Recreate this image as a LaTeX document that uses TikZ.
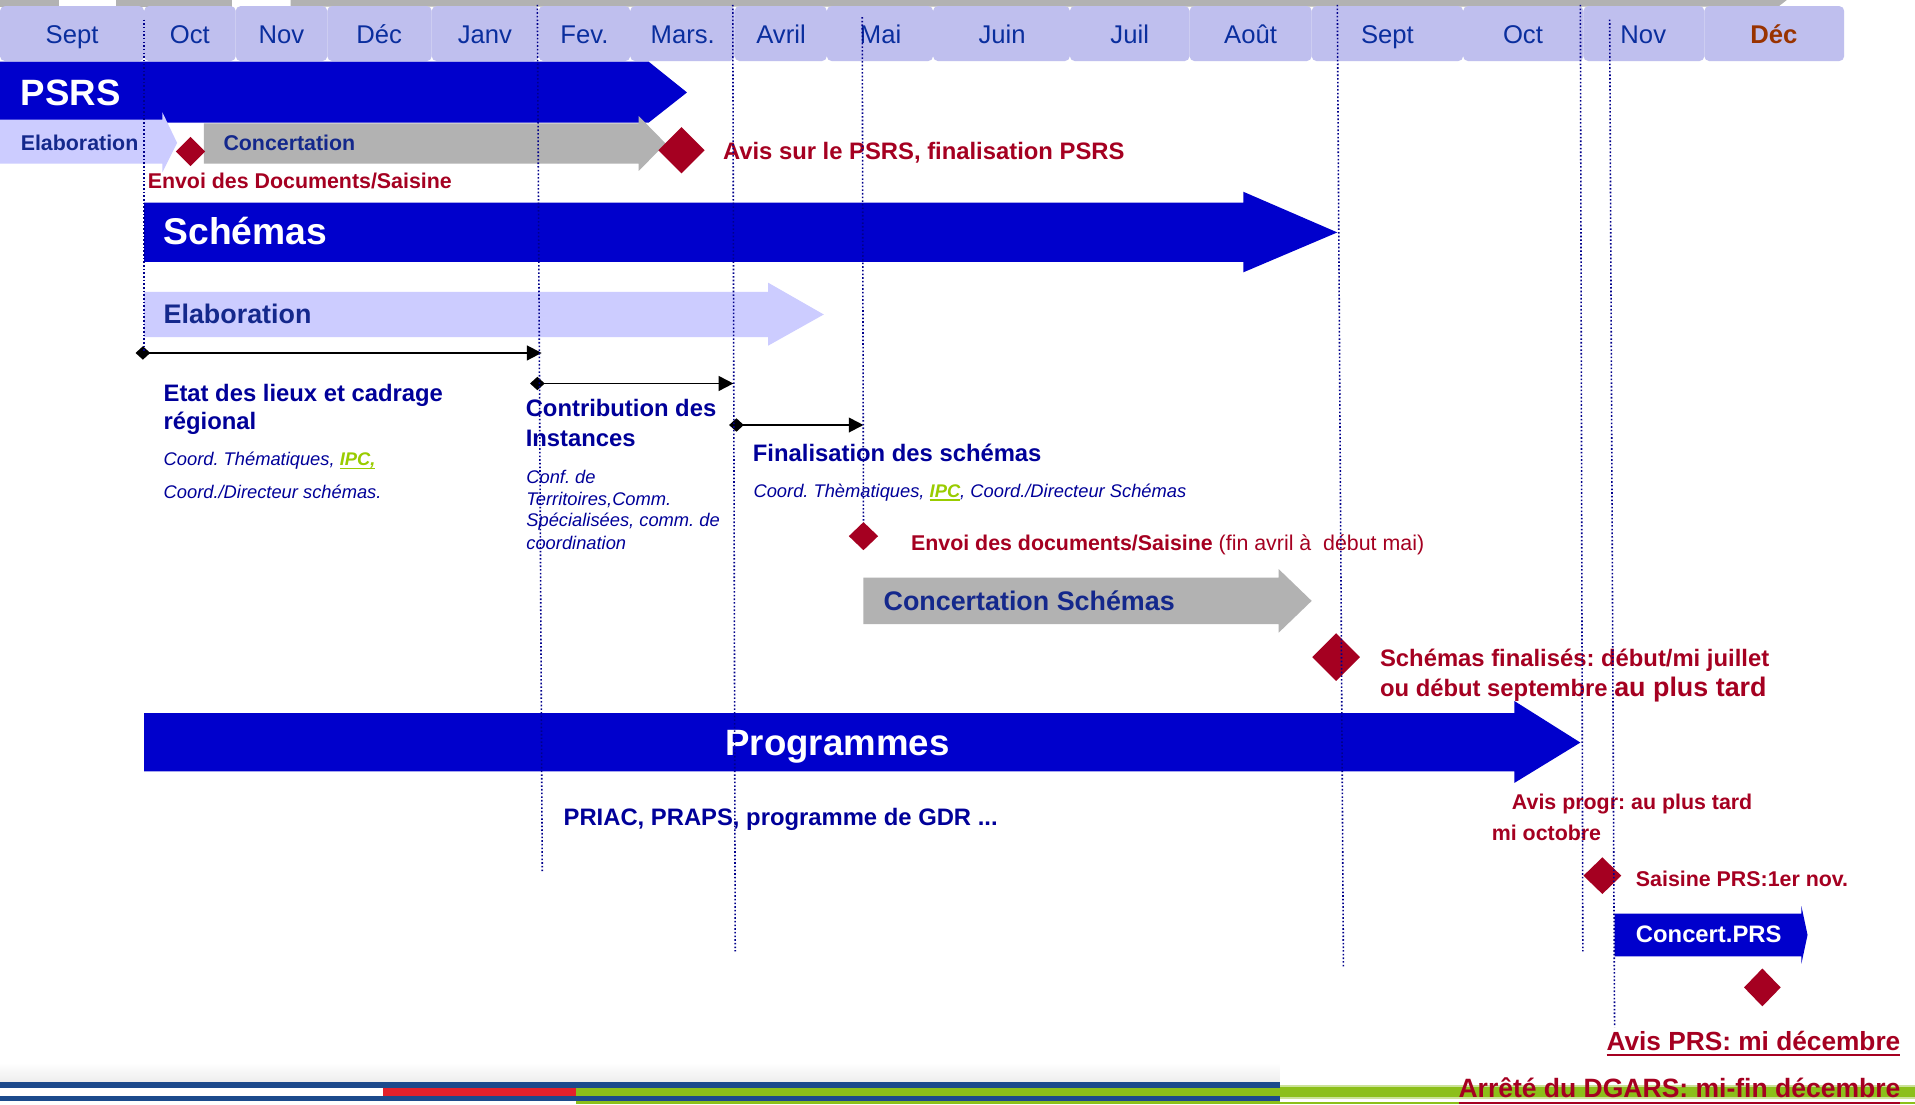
\documentclass[tikz,border=0pt]{standalone}
\usepackage{fontspec}
\setmainfont{Liberation Sans}
\usetikzlibrary{arrows.meta}
\frenchspacing
\definecolor{barblue}{HTML}{0000CC}
\definecolor{lav}{HTML}{BFBFEE}
\definecolor{lavlight}{HTML}{CCCCFF}
\definecolor{greyarr}{HTML}{B2B2B2}
\definecolor{dred}{HTML}{A50021}
\definecolor{monthblue}{HTML}{0A2E9E}
\definecolor{navy}{HTML}{000099}
\definecolor{barnavy}{HTML}{14288C}
\definecolor{decred}{HTML}{993300}
\definecolor{ipcgreen}{HTML}{99CC00}
\definecolor{stripeblue}{HTML}{1C4A8C}
\definecolor{stripered}{HTML}{E3212B}
\definecolor{stripegreen}{HTML}{8CBF1A}
\definecolor{dotblue}{HTML}{00008B}
\newcommand\myfs[1]{\fontsize{#1}{#1}\selectfont}
\newcommand\myul[1]{\leavevmode\setbox0=\hbox{#1}\rlap{\rule[-3.2pt]{\wd0}{1.3pt}}\box0}
\newcommand\ipctext[1]{{\color{ipcgreen}\bfseries\myul{#1}}}
\newcommand\milestone[4]{\fill[dred] (#1-#3,#2) -- (#1,#2-#4) -- (#1+#3,#2) -- (#1,#2+#4) -- cycle;}
\begin{document}
\begin{tikzpicture}[x=1pt,y=-1pt,
  month/.style={inner sep=0pt, outer sep=0pt, anchor=base, text=monthblue, font=\myfs{21}},
  lbl/.style={inner sep=0pt, outer sep=0pt, anchor=base west},
  nvt/.style={lbl, text=navy, font=\bfseries\myfs{#1}},
  bnt/.style={lbl, text=barnavy, font=\bfseries\myfs{#1}},
  rdt/.style={lbl, text=dred, font=\bfseries\myfs{#1}},
  wht/.style={lbl, text=white, font=\bfseries\myfs{#1}},
  itt/.style={lbl, text=navy, font=\itshape\myfs{15}},
  vline/.style={dotblue, line width=1.3pt, dash pattern=on 1.3pt off 1.7pt},
  conn/.style={line width=1.6pt, {Diamond[length=12pt,width=11pt]}-{Triangle[length=12pt,width=12pt]}}]
\useasboundingbox[fill=white] (0,0) rectangle (1568,904);

% top grey band
\fill[greyarr] (0,0) rectangle (48,5.5);
\fill[greyarr] (95,0) rectangle (190,5.5);
\fill[greyarr] (238,0) -- (1463,0) -- (1456,5.5) -- (238,5.5) -- cycle;

% month cells
\foreach \a/\b in {0/118,118/193,193/268,268/353.5,353.5/441,441/516,516/601.5,601.5/677,677/764,764/876,876/974,974/1074,1074/1198,1198/1296.5,1296.5/1395.5,1395.5/1510}
  \fill[lav, rounded corners=4pt] (\a,5) rectangle (\b,50);

\node[month] (m1) at (59,35.4) {Sept};
\node[month] (m2) at (155.5,35.4) {Oct};
\node[month] (m3) at (230.5,35.4) {Nov};
\node[month] (m4) at (310.5,35.4) {Déc};
\node[month] (m5) at (397,35.4) {Janv};
\node[month] (m6) at (478.5,35.4) {Fev.};
\node[month] (m7) at (559,35.4) {Mars.};
\node[month] (m8) at (639.5,35.4) {Avril};
\node[month] (m9) at (721,35.4) {Mai};
\node[month] (m10) at (820.5,35.4) {Juin};
\node[month] (m11) at (925,35.4) {Juil};
\node[month] (m12) at (1024,35.4) {Août};
\node[month] (m13) at (1136,35.4) {Sept};
\node[month] (m14) at (1247,35.4) {Oct};
\node[month] (m15) at (1345.5,35.4) {Nov};
\node[month, text=decred, font=\bfseries\myfs{21}] (m16) at (1452.5,35.4) {Déc};

% PSRS
\fill[barblue] (0,50.4) -- (531,50.4) -- (562.5,75.7) -- (531,100.5) -- (0,100.5) -- cycle;
\fill[lavlight] (0,98) -- (133,98) -- (133,92) -- (145,117) -- (133,141) -- (133,134) -- (0,134) -- cycle;
\fill[greyarr] (167,101) -- (523,101) -- (523,95) -- (545,117.5) -- (523,140) -- (523,134) -- (167,134) -- cycle;
% Schemas
\fill[barblue] (118,166) -- (1018,166) -- (1018,157) -- (1095,190.3) -- (1018,223) -- (1018,214.5) -- (118,214.5) -- cycle;
\fill[lavlight] (118,239) -- (629,239) -- (629,231.5) -- (674.5,257.5) -- (629,283) -- (629,276) -- (118,276) -- cycle;
\fill[greyarr] (707,473) -- (1047,473) -- (1047,466) -- (1074,492) -- (1047,518) -- (1047,511) -- (707,511) -- cycle;
% Programmes
\fill[barblue] (118,584) -- (1240,584) -- (1240,574) -- (1294,608) -- (1240,641) -- (1240,631.5) -- (118,631.5) -- cycle;
\fill[barblue] (1322,748) -- (1475,748) -- (1475,742) -- (1480,765.5) -- (1475,789) -- (1475,783) -- (1322,783) -- cycle;

% milestones
\milestone{156}{124}{12}{12}
\milestone{558}{123}{19}{19}
\milestone{707}{439}{12}{11.5}
\milestone{1094}{538}{19.5}{19.5}
\milestone{1312}{717}{15.5}{15}
\milestone{1443}{808.5}{15}{15.5}

% connectors
\coordinate (c1s) at (111,289); \coordinate (c1e) at (443.5,289);
\coordinate (c2s) at (434,314); \coordinate (c2e) at (600.5,314);
\coordinate (c3s) at (597,348); \coordinate (c3e) at (707,348);
\draw[conn] (c1s) -- (c1e);
\draw[conn] (c2s) -- (c2e);
\draw[conn] (c3s) -- (c3e);

% texts
\node[wht=30] (psrs) at (17,86) {PSRS};
\node[bnt=17.5] (elab1) at (17,123) {Elaboration};
\node[bnt=17.5] (conc1) at (183,123) {Concertation};
\node[rdt=19.5] (avis1) at (592,131) {Avis sur le PSRS, finalisation PSRS};
\node[rdt=17.5] (envoi1) at (121,154) {Envoi des Documents/Saisine};
\node[wht=30.5] (sch) at (134,200.5) {Schémas};
\node[bnt=22] (elab2) at (134,264.6) {Elaboration};
\node[nvt=19.5] (etat1) at (134,329) {Etat des lieux et cadrage};
\node[nvt=19.5] (etat2) at (134,352) {régional};
\node[itt] (ct1) at (134,381) {Coord. Thématiques, \ipctext{IPC,}};
\node[itt] (ct2) at (134,408) {Coord./Directeur schémas.};
\node[nvt=19.5] (contr1) at (430.5,341) {Contribution des};
\node[nvt=19.5] (contr2) at (430.5,366) {Instances};
\node[itt] (conf1) at (431,395.7) {Conf. de};
\node[itt] (conf2) at (431,413.5) {Territoires,Comm.};
\node[itt] (conf3) at (431,431.2) {Spécialisées, comm. de};
\node[itt] (conf4) at (431,449.6) {coordination};
\node[nvt=19.5] (fin1) at (616.5,378) {Finalisation des schémas};
\node[itt] (ft1) at (617,407) {Coord. Thèmatiques, \ipctext{IPC}, Coord./Directeur Schémas};
\node[rdt=17.5] (envoi2) at (746,450.5) {Envoi des documents/Saisine\mdseries\ (fin avril à\ \ début mai)};
\node[bnt=22] (conc2) at (723.5,500) {Concertation Schémas};
\node[rdt=19.5] (fina1) at (1130,545.5) {Schémas finalisés: début/mi juillet};
\node[rdt=19.5] (fina2) at (1130,570.4) {ou début septembre {\myfs{22}au plus tard}};
\node[wht=30] (prog) at (594,619) {Programmes};
\node[nvt=19.5] (priac) at (461.5,676) {PRIAC, PRAPS, programme de GDR ...};
\node[rdt=17.5] (avp1) at (1238,663) {Avis progr: au plus tard};
\node[rdt=17.5] (avp2) at (1221.5,688) {mi octobre};
\node[rdt=17.5] (sais) at (1339.5,726) {Saisine PRS:1er nov.};
\node[wht=19.5] (cprs) at (1339.5,772) {Concert.PRS};

% dotted guide lines
\draw[vline] (118,16) -- (118,287);
\draw[vline] (440,4) -- (444,714);
\draw[vline] (600,4) -- (602,779);
\draw[vline] (706,14) -- (707,428);
\draw[vline] (1095,4) -- (1100,792);
\draw[vline] (1294,4) -- (1296,779);
\draw[vline] (1318,16) -- (1322,841);

% bottom stripes
\shade[top color=white, bottom color=black!7] (0,870) rectangle (1048,886);
\fill[stripeblue] (0,886) rectangle (1048,891);
\fill[white] (0,891) rectangle (314,897);
\fill[stripered] (314,891) rectangle (472,897);
\fill[stripegreen] (472,891) rectangle (1048,897);
\fill[stripeblue] (0,897) rectangle (1048,901.5);
\fill[stripegreen] (472,901.5) rectangle (1048,904);
\fill[stripegreen!45] (1048,888) rectangle (1568,899.5);
\fill[stripegreen] (1048,889.8) rectangle (1568,898);
\fill[stripegreen] (1048,902) rectangle (1568,904);

\node[rdt=21.5, anchor=base east] (avprs) at (1556,860) {Avis PRS: mi décembre};
\draw[dred, line width=2pt] ([yshift=-4pt]avprs.base west) -- ([yshift=-4pt]avprs.base east);
\node[rdt=21.7, anchor=base east] (arrete) at (1556,899) {Arrêté du DGARS: mi-fin décembre};
\draw[dred, line width=2pt] ([yshift=-4pt]arrete.base west) -- ([yshift=-4pt]arrete.base east);
\end{tikzpicture}
\end{document}
